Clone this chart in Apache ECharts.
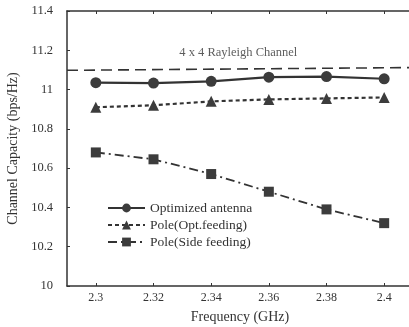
<!DOCTYPE html>
<html>
<head>
<meta charset="utf-8">
<script src="https://cdn.jsdelivr.net/npm/echarts@6/dist/echarts.min.js"></script>
<style>
html,body{margin:0;padding:0;background:#fff}
#charts{width:409px;height:327px}
</style>
</head>
<body>
<div id="charts"></div>
<script>
// frequencies (GHz)
var freqs = [2.3, 2.32, 2.34, 2.36, 2.38, 2.4]
var optimized = [11.035, 11.033, 11.042, 11.063, 11.066, 11.055]
var poleOpt = [10.91, 10.92, 10.94, 10.95, 10.955, 10.96]
var poleSide = [10.68, 10.645, 10.57, 10.48, 10.39, 10.32]
var rayleigh = [[2.29, 11.098], [2.41, 11.112]]
var xTicks = [2.3, 2.32, 2.34, 2.36, 2.38, 2.4]

var ink = '#333'
var font = 'Liberation Serif'

function pairs(vals){
    return freqs.map(function(f, i){ return [f, vals[i]] })
}

var myCharts = echarts.init(document.getElementById('charts'))
myCharts.setOption({
    animation: false,
    backgroundColor: '#fff',
    textStyle: {fontFamily: font},
    grid: {left: 67, top: 11, bottom: 41, right: -4, outerBoundsMode: 'none', containLabel: false},
    legend: {
        orient: 'vertical',
        left: 102,
        top: 196,
        itemWidth: 37,
        itemHeight: 11,
        itemGap: 3,
        textStyle: {fontFamily: font, fontSize: 13.5, color: ink},
        data: ['Optimized antenna', 'Pole(Opt.feeding)', 'Pole(Side feeding)']
    },
    xAxis: [{
        type: 'value',
        min: 2.29, max: 2.41,
        name: 'Frequency (GHz)',
        nameLocation: 'middle',
        nameGap: 24,
        nameTextStyle: {fontFamily: font, fontSize: 14, color: ink},
        axisLine: {lineStyle: {color: ink, width: 1.5}},
        axisTick: {inside: true, length: 3, customValues: xTicks, lineStyle: {color: ink}},
        axisLabel: {customValues: xTicks, fontFamily: font, fontSize: 12, color: ink, margin: 6},
        splitLine: {show: false}
    }, {
        type: 'value',
        position: 'top',
        min: 2.29, max: 2.41,
        axisLine: {show: true, lineStyle: {color: ink, width: 1.5}},
        axisTick: {inside: true, length: 3, customValues: xTicks, lineStyle: {color: ink}},
        axisLabel: {show: false},
        splitLine: {show: false}
    }],
    yAxis: [{
        type: 'value',
        min: 10, max: 11.4, interval: 0.2,
        name: 'Channel Capacity (bps/Hz)',
        nameLocation: 'middle',
        nameGap: 43,
        nameTextStyle: {fontFamily: font, fontSize: 14, color: ink},
        axisLine: {show: true, lineStyle: {color: ink, width: 1.5}},
        axisTick: {show: true, inside: true, length: 3, lineStyle: {color: ink}},
        axisLabel: {fontFamily: font, fontSize: 12.5, color: ink, margin: 14,
            formatter: function(v){ return String(Math.round(v * 10) / 10) }},
        splitLine: {show: false}
    }, {
        type: 'value',
        position: 'right',
        min: 10, max: 11.4, interval: 0.2,
        axisLine: {show: false},
        axisTick: {show: true, inside: true, length: 4, lineStyle: {color: ink}},
        axisLabel: {show: false},
        splitLine: {show: false}
    }],
    series: [{
        name: 'Optimized antenna',
        type: 'line',
        data: pairs(optimized),
        symbol: 'circle',
        symbolSize: 11,
        itemStyle: {color: '#3c3c3c'},
        lineStyle: {color: ink, width: 2.2}
    }, {
        name: 'Pole(Opt.feeding)',
        type: 'line',
        data: pairs(poleOpt),
        symbol: 'triangle',
        symbolSize: 11,
        itemStyle: {color: '#3c3c3c'},
        lineStyle: {color: ink, width: 2.2, type: [4, 3]}
    }, {
        name: 'Pole(Side feeding)',
        type: 'line',
        data: pairs(poleSide),
        symbol: 'rect',
        symbolSize: 10,
        itemStyle: {color: '#3c3c3c'},
        lineStyle: {color: ink, width: 1.8, type: [9, 4, 2, 4]}
    }, {
        name: 'Rayleigh',
        type: 'line',
        data: rayleigh,
        symbol: 'none',
        silent: true,
        lineStyle: {color: ink, width: 1.6, type: [11, 6]}
    }, {
        name: 'RayleighLabel',
        type: 'scatter',
        data: [[2.3494, 11.19]],
        symbolSize: 1,
        itemStyle: {color: 'rgba(0,0,0,0)'},
        silent: true,
        label: {show: true, position: 'inside', formatter: '4 x 4 Rayleigh Channel',
            fontFamily: font, fontSize: 12.5, color: ink}
    }]
})
</script>
</body>
</html>
